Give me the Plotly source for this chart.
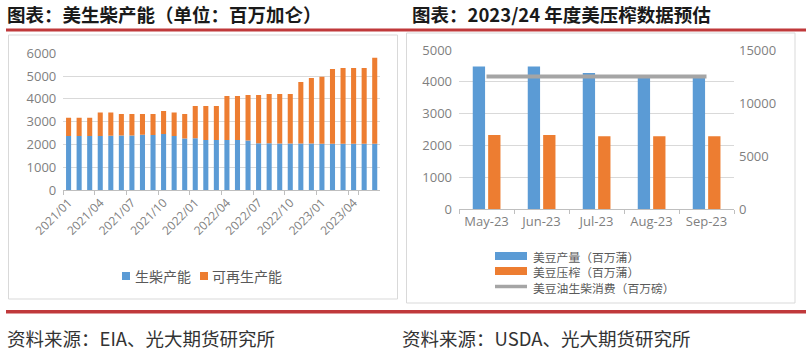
import plotly.graph_objects as go

# ---------------- data ----------------
months = ["2021/01", "2021/02", "2021/03", "2021/04", "2021/05", "2021/06",
          "2021/07", "2021/08", "2021/09", "2021/10", "2021/11", "2021/12",
          "2022/01", "2022/02", "2022/03", "2022/04", "2022/05", "2022/06",
          "2022/07", "2022/08", "2022/09", "2022/10", "2022/11", "2022/12",
          "2023/01", "2023/02", "2023/03", "2023/04", "2023/05", "2023/06"]
month_ticks = ["2021/01", "2021/04", "2021/07", "2021/10", "2022/01", "2022/04",
               "2022/07", "2022/10", "2023/01", "2023/04"]
diesel = [2370, 2370, 2370, 2370, 2380, 2390, 2390, 2430, 2410, 2460, 2370, 2260,
          2270, 2200, 2200, 2200, 2200, 2170, 2050, 2050, 2040, 2040, 2040, 2040,
          2030, 2030, 2030, 2030, 2030, 2030]
total = [3170, 3170, 3170, 3400, 3400, 3340, 3340, 3340, 3340, 3470, 3400, 3340,
         3690, 3690, 3690, 4130, 4130, 4170, 4170, 4215, 4215, 4215, 4745, 4920,
         4975, 5315, 5360, 5360, 5360, 5800]
renewable = [t - d for t, d in zip(total, diesel)]

crush_months = ["May-23", "Jun-23", "Jul-23", "Aug-23", "Sep-23"]
soy_prod = [4480, 4480, 4280, 4160, 4140]      # 百万蒲
soy_crush = [2330, 2330, 2290, 2290, 2290]     # 百万蒲
soyoil_bio = [12500, 12500, 12500, 12500, 12500]  # 百万磅

legend_right = ["美豆产量（百万蒲）", "美豆压榨（百万蒲）", "美豆油生柴消费（百万磅）"]

BLUE = "#5B9BD5"
ORANGE = "#ED7D31"
GRAY = "#A5A5A5"
RED = "#C0393B"
GRID = "#D9D9D9"
TICK = "#7F7F7F"
W, H = 812, 356

def px(x):
    return x / W

def py(y):
    return 1 - y / H

fig = go.Figure()

# ---------------- left chart ----------------
fig.add_trace(go.Bar(x=months, y=diesel, name="生柴产能", marker_color=BLUE,
                     marker_line_width=0, width=0.48, xaxis="x", yaxis="y"))
fig.add_trace(go.Bar(x=months, y=renewable, base=diesel, name="可再生产能",
                     marker_color=ORANGE, marker_line_width=0, width=0.48,
                     xaxis="x", yaxis="y"))

# ---------------- right chart ----------------
fig.add_trace(go.Bar(x=crush_months, y=soy_prod, name=legend_right[0],
                     marker_color=BLUE, marker_line_width=0, width=0.224, offset=-0.25,
                     xaxis="x2", yaxis="y2"))
fig.add_trace(go.Bar(x=crush_months, y=soy_crush, name=legend_right[1],
                     marker_color=ORANGE, marker_line_width=0, width=0.224, offset=0.03,
                     xaxis="x2", yaxis="y2"))
fig.add_trace(go.Scatter(x=crush_months, y=soyoil_bio, name=legend_right[2],
                         mode="lines", line=dict(color=GRAY, width=4),
                         xaxis="x2", yaxis="y3"))

tickfont = dict(family="Open Sans, DejaVu Sans, sans-serif", size=13, color=TICK)

fig.update_layout(
    template="none",
    width=W, height=H,
    margin=dict(l=0, r=0, t=0, b=0, pad=0, autoexpand=False),
    paper_bgcolor="white", plot_bgcolor="rgba(0,0,0,0)",
    barmode="overlay",
    showlegend=False,
    xaxis=dict(domain=[px(63.3), px(380)], type="category",
               categoryorder="array", categoryarray=months,
               tickvals=month_ticks, ticktext=month_ticks, tickangle=-45,
               tickfont=dict(family="Open Sans, DejaVu Sans, sans-serif", size=12, color=TICK),
               showline=True, linecolor="#BFBFBF", linewidth=1,
               ticks="outside", ticklen=4, tickcolor="#BFBFBF", tickson="boundaries",
               showgrid=False, zeroline=False, anchor="y", automargin=False),
    yaxis=dict(domain=[py(190), py(53.3)], range=[0, 6000], dtick=1000,
               showgrid=True, gridcolor=GRID, gridwidth=1, zeroline=False,
               showline=False, ticks="", tickfont=tickfont, ticklabelstandoff=6,
               anchor="x", automargin=False),
    xaxis2=dict(domain=[px(459), px(734)], type="category",
                categoryorder="array", categoryarray=crush_months, tickangle=0,
                tickfont=tickfont, showline=True, linecolor="#BFBFBF", linewidth=1,
                ticks="outside", ticklen=4, tickcolor="#BFBFBF", tickson="boundaries",
                showgrid=False, zeroline=False, anchor="y2", automargin=False),
    yaxis2=dict(domain=[py(209), py(50)], range=[0, 5000], dtick=1000,
                showgrid=True, gridcolor=GRID, gridwidth=1, zeroline=False,
                showline=False, ticks="", tickfont=tickfont, ticklabelstandoff=6,
                anchor="x2", automargin=False),
    yaxis3=dict(overlaying="y2", side="right", range=[0, 15000], dtick=5000,
                tickformat="d", showgrid=False, zeroline=False, showline=False,
                ticks="", tickfont=tickfont, ticklabelstandoff=4, anchor="x2",
                automargin=False),
)

shapes = []
# frames
shapes.append(dict(type="rect", xref="paper", yref="paper",
                   x0=px(8.5), x1=px(397.5), y0=py(299), y1=py(35),
                   line=dict(color=GRID, width=1), fillcolor="rgba(0,0,0,0)", layer="below"))
shapes.append(dict(type="rect", xref="paper", yref="paper",
                   x0=px(406.5), x1=px(795), y0=py(303), y1=py(33),
                   line=dict(color=GRID, width=1), fillcolor="rgba(0,0,0,0)", layer="below"))
# red rules
shapes.append(dict(type="line", xref="paper", yref="paper",
                   x0=px(6), x1=px(806), y0=py(30), y1=py(30),
                   line=dict(color=RED, width=3)))
shapes.append(dict(type="line", xref="paper", yref="paper",
                   x0=px(6), x1=px(806), y0=py(311.7), y1=py(311.7),
                   line=dict(color=RED, width=3.5)))
# left legend symbols
shapes.append(dict(type="rect", xref="paper", yref="paper",
                   x0=px(122), x1=px(130), y0=py(280), y1=py(272),
                   line=dict(width=0), fillcolor=BLUE))
shapes.append(dict(type="rect", xref="paper", yref="paper",
                   x0=px(200), x1=px(208), y0=py(280), y1=py(272),
                   line=dict(width=0), fillcolor=ORANGE))
# right legend symbols
shapes.append(dict(type="rect", xref="paper", yref="paper",
                   x0=px(495), x1=px(527), y0=py(260), y1=py(252),
                   line=dict(width=0), fillcolor=BLUE))
shapes.append(dict(type="rect", xref="paper", yref="paper",
                   x0=px(495), x1=px(527), y0=py(275), y1=py(267),
                   line=dict(width=0), fillcolor=ORANGE))
shapes.append(dict(type="line", xref="paper", yref="paper",
                   x0=px(495), x1=px(527), y0=py(286.5), y1=py(286.5),
                   line=dict(color=GRAY, width=3.5)))

cjk = "Noto Sans CJK SC, sans-serif"
ann = []

def text(x, y, s, size, color, bold=False, anchor="left"):
    ann.append(dict(xref="paper", yref="paper", x=px(x), y=py(y),
                    text=(f"<b>{s}</b>" if bold else s),
                    showarrow=False, xanchor=anchor, yanchor="middle", align="left",
                    borderpad=0, font=dict(family=cjk, size=size, color=color)))

text(6, 14, "图表：美生柴产能（单位：百万加仑）", 18.5, "#1A1A1A", bold=True)
text(411, 14, "图表：2023/24 年度美压榨数据预估", 18.5, "#1A1A1A", bold=True)
text(6, 338, "资料来源：EIA、光大期货研究所", 18.5, "#333333")
text(401, 338, "资料来源：USDA、光大期货研究所", 18.5, "#333333")
text(134, 276, "生柴产能", 14, "#595959")
text(211, 276, "可再生产能", 14, "#595959")
text(532, 271.5, "<br>".join(legend_right), 11.8, "#595959")

fig.update_layout(shapes=shapes, annotations=ann)

fig.write_html("out.html", config={"displayModeBar": False},
               post_script="document.body.style.margin='0';document.body.style.overflow='hidden';")
